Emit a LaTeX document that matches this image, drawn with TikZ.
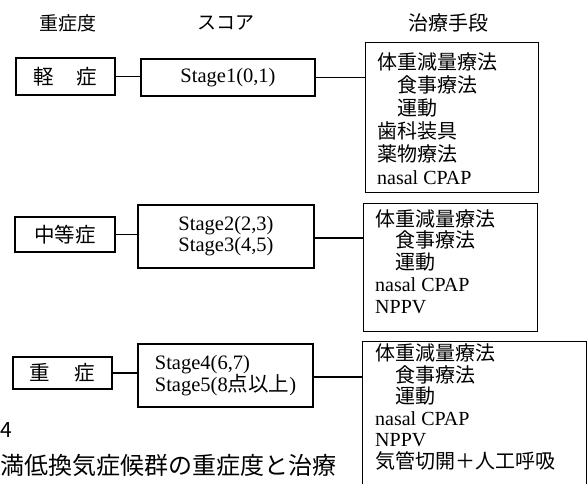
\documentclass[tikz,border=0pt]{standalone}
\usepackage{fontspec}
\setmainfont{Liberation Serif}
\newfontfamily\jp{Noto Sans CJK JP}
\begin{document}
\begin{tikzpicture}[x=1pt,y=-1pt,
  box/.style={draw, line width=1.2pt, inner sep=0pt},
  hdr/.style={font=\jp\fontsize{19}{19}\selectfont, inner sep=0pt},
  lbl/.style={font=\fontsize{20.5}{21}\selectfont, align=left},
  list/.style={align=left, inner sep=0pt, anchor=north west},
  link/.style={line width=1.2pt}]
\clip (0,0) rectangle (587,484);
% headers
\node[hdr] (h1) at (68,23) {重症度};
\node[hdr] (h2) at (226,23) {スコア};
\node[hdr, font=\jp\fontsize{20}{20}\selectfont] (h3) at (448,23) {治療手段};
% severity boxes
\node[box, lbl, minimum width=99pt, minimum height=37pt] (g1) at (65.5,76.5) {\jp 軽\hspace{22pt}症};
\node[box, lbl, minimum width=100pt, minimum height=35pt] (g2) at (65,234.5) {\jp 中等症};
\node[box, lbl, minimum width=99pt, minimum height=32pt] (g3) at (62.5,373) {\jp 重\hspace{25pt}症};
% score boxes
\node[box, lbl, minimum width=174pt, minimum height=37pt] (s1) at (228,77.5) {Stage1(0,1)};
\node[box, lbl, minimum width=176pt, minimum height=63pt] (s2) at (226,236.5) {Stage2(2,3)\\Stage3(4,5)};
\node[box, lbl, minimum width=175pt, minimum height=63pt] (s3) at (225.5,375.5) {Stage4(6,7)\\Stage5(8{\jp 点以上})};
% treatment boxes
\node[box, minimum width=173pt, minimum height=150pt, anchor=north west] (t1) at (365,42) {};
\node[box, minimum width=174pt, minimum height=128pt, anchor=north west] (t2) at (363,203) {};
\node[box, minimum width=224pt, minimum height=170pt, anchor=north west] (t3) at (362,341) {};
\node[list, font=\fontsize{20}{23}\selectfont] (t1x) at ([xshift=12pt,yshift=-10.5pt]t1.north west)
  {{\jp 体重減量療法}\\\hspace*{20pt}{\jp 食事療法}\\\hspace*{20pt}{\jp 運動}\\{\jp 歯科装具}\\{\jp 薬物療法}\\nasal CPAP};
\node[list, font=\fontsize{20}{21.75}\selectfont] (t2x) at ([xshift=12pt,yshift=-6pt]t2.north west)
  {{\jp 体重減量療法}\\\hspace*{20pt}{\jp 食事療法}\\\hspace*{20pt}{\jp 運動}\\nasal CPAP\\NPPV};
\node[list, font=\fontsize{20}{21.6}\selectfont] (t3x) at ([xshift=13pt,yshift=-2.5pt]t3.north west)
  {{\jp 体重減量療法}\\\hspace*{20pt}{\jp 食事療法}\\\hspace*{20pt}{\jp 運動}\\nasal CPAP\\NPPV\\{\jp 気管切開＋人工呼吸}};
% connectors
\draw[link] (g1.east) -- (g1.east -| s1.west);
\draw[link] (s1.east) -- (s1.east -| t1.west);
\draw[link] (g2.east) -- (g2.east -| s2.west);
\draw[link] ([yshift=-1.5pt]s2.east) -- ([yshift=-1.5pt]s2.east -| t2.west);
\draw[link] (g3.east) -- (g3.east -| s3.west);
\draw[link] ([yshift=-1.5pt]s3.east) -- ([yshift=-1.5pt]s3.east -| t3.west);
% caption
\node[anchor=west, inner sep=0pt, font=\jp\fontsize{21}{21}\selectfont] (fig) at (0,430) {4};
\node[anchor=west, inner sep=0pt, font=\jp\fontsize{24}{24}\selectfont] (cap) at (0,465) {満低換気症候群の重症度と治療};
\end{tikzpicture}
\end{document}
